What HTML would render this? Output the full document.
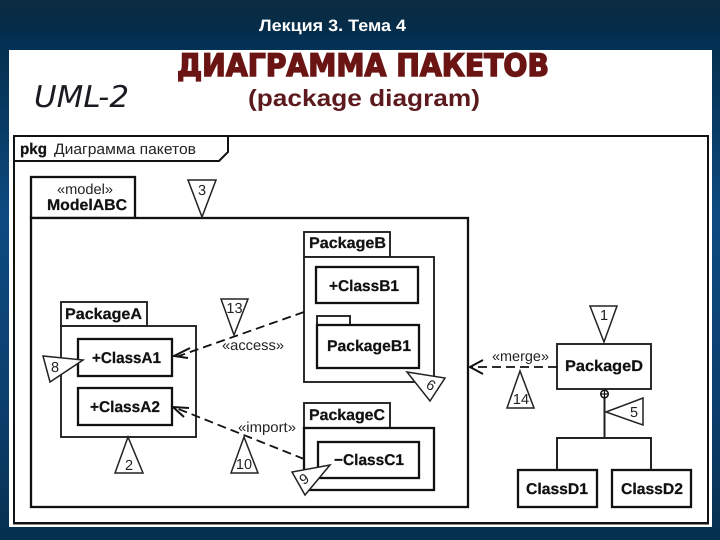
<!DOCTYPE html>
<html lang="ru">
<head>
<meta charset="utf-8">
<title>Диаграмма пакетов</title>
<style>
html,body{margin:0;padding:0;background:#06304f;}
svg{display:block;}
text{font-family:"Liberation Sans",sans-serif;fill:#111;text-rendering:geometricPrecision;}
.b{font-weight:bold;font-size:15.5px;stroke:#111;stroke-width:.25;}
.n{font-size:14.5px;fill:#222;}
.d{font-size:14.5px;fill:#222;text-anchor:middle;}
.t{fill:#fff;stroke:#222;stroke-width:1.5;}
.box{fill:#fff;stroke:#111;stroke-width:2.3;}
.thin{fill:#fff;stroke:#222;stroke-width:1.9;}
.dash{fill:none;stroke:#111;stroke-width:1.8;stroke-dasharray:9 5;}
.arr{fill:none;stroke:#111;stroke-width:2;}
</style>
</head>
<body>
<svg xmlns="http://www.w3.org/2000/svg" width="720" height="540" viewBox="0 0 720 540">
<defs>
<linearGradient id="bg" x1="0" y1="0" x2="0" y2="1">
<stop offset="0" stop-color="#0a2f4a"/>
<stop offset=".09" stop-color="#04304f"/>
<stop offset=".4" stop-color="#0d4a80"/>
<stop offset=".75" stop-color="#0b3f6e"/>
<stop offset="1" stop-color="#07304f"/>
</linearGradient>
<linearGradient id="top" x1="0" y1="0" x2="0" y2="1">
<stop offset="0" stop-color="#0c2c42"/>
<stop offset=".5" stop-color="#052c48"/>
<stop offset="1" stop-color="#033258"/>
</linearGradient>
</defs>
<rect width="720" height="540" fill="url(#bg)"/>
<rect width="720" height="50" fill="url(#top)"/>
<rect y="527" width="720" height="13" fill="#06304f"/>
<rect x="9" y="50" width="703" height="477" fill="#fff"/>

<text x="259" y="31" font-size="16.500" font-weight="bold" style="fill:#fff" textLength="147" lengthAdjust="spacingAndGlyphs">Лекция 3. Тема 4</text>

<text x="177" y="76" textLength="372" lengthAdjust="spacingAndGlyphs" style="font-family:'DejaVu Sans',sans-serif;font-weight:bold;font-size:31px;fill:#6a1414;stroke:#6a1414;stroke-width:1.5">ДИАГРАММА ПАКЕТОВ</text>
<text x="248" y="106" textLength="232" lengthAdjust="spacingAndGlyphs" style="font-weight:bold;font-size:23.5px;fill:#5c1a1e">(package diagram)</text>
<text x="34" y="107" textLength="95" lengthAdjust="spacingAndGlyphs" style="font-family:'DejaVu Sans',sans-serif;font-style:italic;font-size:30px;fill:#1a1a22">UML-2</text>

<!-- frame -->
<rect x="14" y="136" width="694" height="387" fill="#fff" stroke="#111" stroke-width="2"/>
<line x1="13" y1="524.5" x2="709" y2="524.5" stroke="#888" stroke-width="1"/>
<path d="M14 161H219L228 152V136" fill="none" stroke="#111" stroke-width="2"/>
<text x="20" y="154" class="b" textLength="27" lengthAdjust="spacingAndGlyphs">pkg</text>
<text x="54" y="154" style="font-size:15px;fill:#222" textLength="142" lengthAdjust="spacingAndGlyphs">Диаграмма пакетов</text>

<!-- model -->
<rect x="31" y="177" width="104" height="41" class="box"/>
<rect x="31" y="218" width="437" height="289" class="box"/>
<text x="57" y="194" class="n" textLength="56" lengthAdjust="spacingAndGlyphs">«model»</text>
<text x="47" y="210" class="b" textLength="80" lengthAdjust="spacingAndGlyphs">ModelABC</text>

<!-- Package A -->
<rect x="61" y="302" width="86" height="24" class="thin"/>
<rect x="61" y="326" width="135" height="111" class="thin"/>
<text x="65" y="319" class="b" textLength="77" lengthAdjust="spacingAndGlyphs">PackageA</text>
<rect x="78" y="339" width="94" height="37" class="box"/>
<rect x="78" y="388" width="94" height="37" class="box"/>
<text x="92" y="363" class="b" textLength="69" lengthAdjust="spacingAndGlyphs">+ClassA1</text>
<text x="90" y="412" class="b" textLength="70" lengthAdjust="spacingAndGlyphs">+ClassA2</text>

<!-- Package B -->
<rect x="304" y="232" width="86" height="25" class="thin"/>
<rect x="304" y="257" width="130" height="125" class="thin"/>
<text x="309" y="248" class="b" textLength="77" lengthAdjust="spacingAndGlyphs">PackageB</text>
<rect x="316" y="267" width="102" height="36" class="box"/>
<text x="329" y="291" class="b" textLength="70" lengthAdjust="spacingAndGlyphs">+ClassB1</text>
<rect x="317" y="316" width="33" height="9" class="thin"/>
<rect x="317" y="325" width="102" height="43" class="box"/>
<text x="327" y="351" class="b" textLength="84" lengthAdjust="spacingAndGlyphs">PackageB1</text>

<!-- Package C -->
<rect x="304" y="403" width="86" height="25" class="thin"/>
<rect x="304" y="428" width="130" height="62" class="box"/>
<text x="309" y="420" class="b" textLength="76" lengthAdjust="spacingAndGlyphs">PackageC</text>
<rect x="318" y="442" width="101" height="36" class="box"/>
<text x="334" y="465" class="b" textLength="70" lengthAdjust="spacingAndGlyphs">−ClassC1</text>

<!-- Package D -->
<path d="M604.5 389V438M557 470V438H651V470" fill="none" stroke="#222" stroke-width="2"/>
<rect x="557" y="344" width="94" height="45" class="thin"/>
<text x="565" y="371" class="b" textLength="78" lengthAdjust="spacingAndGlyphs">PackageD</text>
<circle cx="604.5" cy="394" r="3.8" fill="#fff" stroke="#111" stroke-width="1.5"/>
<path d="M600.7 394h7.6M604.5 390.2v7.6" stroke="#111" stroke-width="1.2"/>
<rect x="518" y="470" width="79" height="37" class="box"/>
<rect x="612" y="470" width="79" height="37" class="box"/>
<text x="526" y="494" class="b" textLength="62" lengthAdjust="spacingAndGlyphs">ClassD1</text>
<text x="621" y="494" class="b" textLength="62" lengthAdjust="spacingAndGlyphs">ClassD2</text>

<!-- connectors -->
<path d="M304 312L176 357" class="dash"/>
<path d="M190 348L174 356L188 358" class="arr"/>
<path d="M304 459L176 408" class="dash"/>
<path d="M184 417L173 407L189 408" class="arr"/>
<path d="M557 367H472" class="dash"/>
<path d="M483 360L470 367L483 374" class="arr"/>
<text x="222" y="350" class="n" textLength="62" lengthAdjust="spacingAndGlyphs">«access»</text>
<text x="238" y="432" class="n" textLength="58" lengthAdjust="spacingAndGlyphs">«import»</text>
<text x="492" y="361" class="n" textLength="57" lengthAdjust="spacingAndGlyphs">«merge»</text>

<!-- note triangles -->
<polygon class="t" points="188,180 216,180 202,217"/>
<text x="202" y="195" class="d">3</text>
<polygon class="t" points="221,299 248,299 234,335"/>
<text x="234.500" y="313" class="d">13</text>
<polygon class="t" points="43,356 50,382 83,360"/>
<text x="55" y="372" class="d">8</text>
<polygon class="t" points="128,437 115,473 143,473"/>
<text x="129" y="470" class="d">2</text>
<polygon class="t" points="244,437 231,473 258,473"/>
<text x="244" y="469" class="d">10</text>
<polygon class="t" points="292,472 305,495 330,465"/>
<text x="0" y="0" class="d" transform="translate(304,479) rotate(-35) translate(0,5)">9</text>
<polygon class="t" points="407,372 445,378 430,401"/>
<text x="0" y="0" class="d" transform="translate(431,385) rotate(30) translate(0,5)">6</text>
<polygon class="t" points="520,371 507,408 534,408"/>
<text x="521" y="404" class="d">14</text>
<polygon class="t" points="590,306 617,306 604,342"/>
<text x="604" y="320" class="d">1</text>
<polygon class="t" points="606,412 643,398 643,425"/>
<text x="634" y="417" class="d">5</text>
</svg>
</body>
</html>
